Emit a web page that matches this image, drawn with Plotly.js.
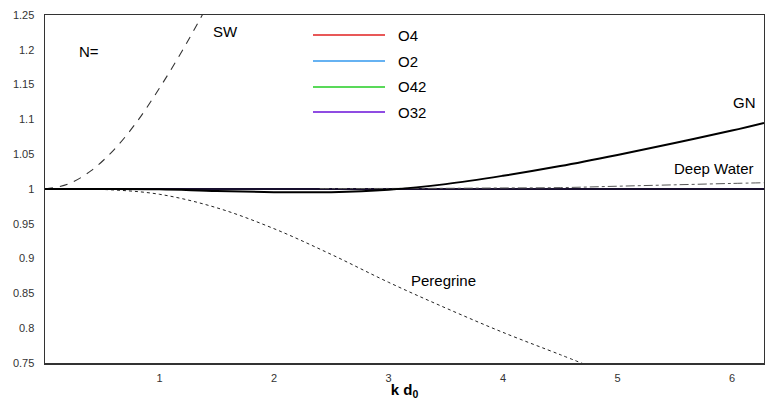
<!DOCTYPE html>
<html>
<head>
<meta charset="utf-8">
<script src="https://cdn.plot.ly/plotly-3.0.1.min.js"></script>
<style>html,body{margin:0;padding:0;background:#fff}#chart{width:765px;height:400px}</style>
</head>
<body>
<div id="chart"></div>
<script>
// Shallow water (SW) ratio
var swX = [0, 0.2, 0.4, 0.6, 0.8, 1.0, 1.2, 1.4];
var swY = [1.0, 1.007, 1.026, 1.056, 1.096, 1.145, 1.199, 1.258];
// Peregrine ratio
var perX = [0, 0.5, 1.0, 1.5, 2.0, 2.5, 3.0, 3.5, 4.0, 4.5, 4.7];
var perY = [1.0, 0.9994, 0.9924, 0.973, 0.943, 0.906, 0.866, 0.829, 0.794, 0.762, 0.749];
// Green-Naghdi (GN) ratio
var gnX = [0, 0.5, 1.0, 1.5, 2.0, 2.5, 3.0, 3.5, 4.0, 4.5, 5.0, 5.5, 6.0, 6.28];
var gnY = [1.0, 1.0, 0.9995, 0.997, 0.9955, 0.9955, 0.999, 1.007, 1.019, 1.033, 1.049, 1.066, 1.084, 1.095];
// Deep water ratio
var dwX = [2.4, 3.0, 3.5, 4.0, 4.5, 5.0, 5.5, 6.0, 6.28];
var dwY = [1.0005, 1.0008, 1.001, 1.0015, 1.002, 1.004, 1.006, 1.008, 1.009];
// Exact reference (=1)
var exX = [0, 6.28];
var exY = [1, 1];
// Order families N= O4, O2, O42, O32 (overlaying the exact curve)
var oNames = ['O4', 'O2', 'O42', 'O32'];
var oColors = ['#e02020', '#3399ee', '#22cc22', '#6a10d8'];
var oX = [0, 1, 2, 3, 4, 5, 6, 6.28];
var oY = [
  [1, 1, 1, 1, 1, 1, 1, 1],
  [1, 1, 1, 1, 1, 1, 1, 1],
  [1, 1, 1, 1, 1, 1, 1, 1],
  [1, 1, 1, 1, 1, 1, 1, 1]
];
var xTicks = [1, 2, 3, 4, 5, 6];

var traces = [];
oNames.forEach(function (n, i) {
  traces.push({x: oX, y: oY[i], mode: 'lines', name: n, showlegend: false,
    line: {color: oColors[i], width: 1.5}, hoverinfo: 'skip'});
});
traces.push({x: exX, y: exY, mode: 'lines', showlegend: false, line: {color: '#000', width: 1.6}});
traces.push({x: swX, y: swY, mode: 'lines', showlegend: false, line: {color: '#333', width: 1.1, dash: '8px,7px', shape: 'spline'}});
traces.push({x: perX, y: perY, mode: 'lines', showlegend: false, line: {color: '#222', width: 1, dash: 'dot', shape: 'spline'}});
traces.push({x: dwX, y: dwY, mode: 'lines', showlegend: false, line: {color: '#555', width: 1, dash: 'dashdot', shape: 'spline'}});
traces.push({x: gnX, y: gnY, mode: 'lines', showlegend: false, line: {color: '#000', width: 2, shape: 'spline'}});

var font = {family: 'Liberation Sans, Arial, sans-serif', size: 15, color: '#000'};
var annotations = [
  {x: 1.58, y: 1.226, text: 'SW'},
  {x: 0.38, y: 1.197, text: 'N='},
  {x: 6.11, y: 1.125, text: 'GN'},
  {x: 5.84, y: 1.030, text: 'Deep Water'},
  {x: 3.48, y: 0.869, text: 'Peregrine'}
].map(function (a) {
  return {x: a.x, y: a.y, xref: 'x', yref: 'y', text: a.text, showarrow: false, font: font};
});

// Legend drawn in paper coordinates
var legRowsPx = [35, 61, 87, 112];
var shapes = [];
legRowsPx.forEach(function (py, i) {
  var yp = 1 - (py - 15) / 348;
  shapes.push({type: 'line', xref: 'paper', yref: 'paper',
    x0: (313 - 45) / 719, x1: (385 - 45) / 719, y0: yp, y1: yp,
    line: {color: oColors[i], width: 1.5}});
  annotations.push({xref: 'paper', yref: 'paper', x: (396 - 45) / 719, y: yp,
    xanchor: 'left', yanchor: 'middle', text: oNames[i], showarrow: false,
    font: {family: 'Liberation Sans, Arial, sans-serif', size: 15, color: '#000'}});
});

var layout = {
  width: 765, height: 400,
  margin: {l: 45, r: 1, t: 15, b: 37},
  paper_bgcolor: '#fff', plot_bgcolor: '#fff',
  showlegend: false,
  xaxis: {
    range: [0, 6.28], tickvals: xTicks, ticktext: xTicks.map(String),
    showgrid: false, zeroline: false, showline: true, mirror: true,
    linecolor: '#333', linewidth: 1.5, ticks: '', ticklabelstandoff: 4,
    tickfont: {family: 'Liberation Sans, Arial, sans-serif', size: 11, color: '#333'},
    title: {text: '<b>k d<sub>0</sub></b>', standoff: 2,
      font: {family: 'Liberation Sans, Arial, sans-serif', size: 15, color: '#000'}}
  },
  yaxis: {
    range: [0.75, 1.25], dtick: 0.05, tick0: 0.75,
    showgrid: false, zeroline: false, showline: true, mirror: true,
    linecolor: '#333', linewidth: 1.5, ticks: '', ticklabelstandoff: 7,
    tickfont: {family: 'Liberation Sans, Arial, sans-serif', size: 11, color: '#333'}
  },
  annotations: annotations,
  shapes: shapes
};

Plotly.newPlot('chart', traces, layout, {displayModeBar: false, staticPlot: true});
</script>
</body>
</html>
